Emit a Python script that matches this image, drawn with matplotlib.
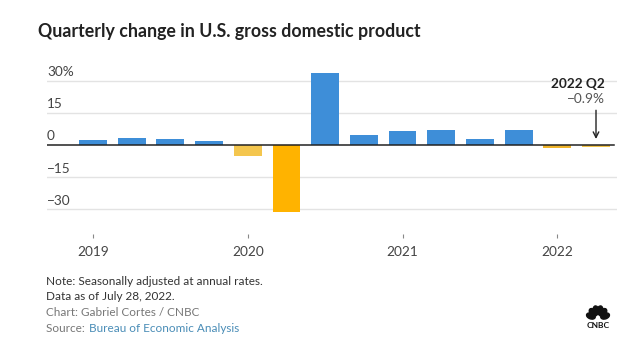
import matplotlib
matplotlib.use("Agg")
import matplotlib.pyplot as plt
from matplotlib.patches import Ellipse
import numpy as np

plt.rcParams['font.family'] = ['Lato', 'DejaVu Sans']

quarters = ["2019 Q1", "2019 Q2", "2019 Q3", "2019 Q4",
            "2020 Q1", "2020 Q2", "2020 Q3", "2020 Q4",
            "2021 Q1", "2021 Q2", "2021 Q3", "2021 Q4",
            "2022 Q1", "2022 Q2"]
gdp_change = [2.4, 3.2, 2.8, 1.9, -5.1, -31.2, 33.8, 4.5, 6.3, 7.0, 2.7, 6.9, -1.6, -0.9]
bar_colors = ["#3E8ED8"] * 4 + ["#F4C64E", "#FFB300"] + ["#3E8ED8"] * 6 + ["#F0B429", "#F2C44A"]
year_labels = ["2019", "2020", "2021", "2022"]
year_tick_idx = [0, 4, 8, 12]
y_ticks = [30, 15, 0, -15, -30]
y_tick_labels = ["30%", "15", "0", "\u221215", "\u221230"]

W, H = 640, 358
fig = plt.figure(figsize=(W / 100, H / 100), dpi=100)
fig.patch.set_facecolor("white")

# axes placement in pixels
ax_l, ax_r, ax_t, ax_b = 47, 617, 60, 234
ax = fig.add_axes([ax_l / W, 1 - ax_b / H, (ax_r - ax_l) / W, (ax_b - ax_t) / H])
x = np.arange(len(gdp_change))
pitch = 38.7
ax.set_xlim(-(93 - ax_l) / pitch, 13 + (ax_r - 596) / pitch)
ppu = 64.3 / 30
ax.set_ylim(-(ax_b - 145) / ppu, (145 - ax_t) / ppu)

for v in y_ticks:
    if v != 0:
        ax.axhline(v, color="#E3E3E3", lw=1.0, zorder=0)
ax.bar(x, gdp_change, width=0.72, color=bar_colors, zorder=2)
ax.axhline(0, color="#222222", lw=1.1, zorder=3, xmax=0.995)

for v, lab in zip(y_ticks, y_tick_labels):
    ax.text(0.0, v + 1.2, lab, transform=ax.get_yaxis_transform(),
            ha="left", va="bottom", fontsize=9.8, color="#444444")

for s in ax.spines.values():
    s.set_visible(False)
ax.set_yticks([])
ax.set_xticks(year_tick_idx)
ax.set_xticklabels(year_labels, fontsize=9.8, color="#444444")
ax.tick_params(axis="x", length=3, width=0.8, color="#888888", pad=6)

# annotation for last quarter
last = len(gdp_change) - 1
ax.annotate("", xy=(last, 1.5), xytext=(last, 17.5),
            arrowprops=dict(arrowstyle="->", color="#222222", lw=1.0))
ax.text(last + 0.22, 28.6, "2022 Q2", ha="right", va="center",
        fontsize=9.8, fontweight="bold", color="#222222")
ax.text(last + 0.22, 21.6, "\u22120.9%", ha="right", va="center",
        fontsize=9.8, color="#555555")

# title
fig.text(38 / W, 1 - 31 / H, "Quarterly change in U.S. gross domestic product",
         ha="left", va="center", fontsize=12.8, fontweight="bold", color="#222222")

# footer
fs = 8.5
fig.text(46 / W, 1 - 281.5 / H, "Note: Seasonally adjusted at annual rates.",
         ha="left", va="center", fontsize=fs, color="#333333")
fig.text(46 / W, 1 - 296 / H, "Data as of July 28, 2022.",
         ha="left", va="center", fontsize=fs, color="#333333")
fig.text(46 / W, 1 - 313 / H, "Chart: Gabriel Cortes / CNBC",
         ha="left", va="center", fontsize=fs, color="#777777")
fig.text(46 / W, 1 - 328 / H, "Source: ", ha="left", va="center",
         fontsize=fs, color="#777777")
fig.text(89 / W, 1 - 328 / H, "Bureau of Economic Analysis", ha="left", va="center",
         fontsize=fs, color="#4A8DB7")

# simple CNBC peacock logo
lax = fig.add_axes([580 / W, 1 - 320 / H, 36 / W, 18 / H])
lax.set_xlim(-1, 1)
lax.set_ylim(0, 1)
lax.axis("off")
for ang in np.linspace(20, 160, 6):
    a = np.deg2rad(ang)
    cx, cy = 0.42 * np.cos(a), 0.05 + 0.5 * np.sin(a)
    lax.add_patch(Ellipse((cx, cy), 0.32, 0.5, angle=ang - 90, color="#111111"))
fig.text(598 / W, 1 - 326 / H, "CNBC", ha="center", va="center",
         fontsize=6, fontweight="bold", color="#111111")

fig.savefig("out.png", dpi=100, facecolor="white")
